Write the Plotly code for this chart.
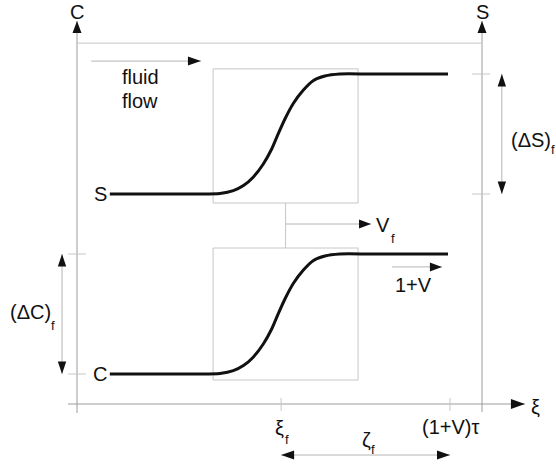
import plotly.graph_objects as go

# ---------------- data (schematic units) ----------------
# horizontal positions (xi units)
xi_f = 5.04          # front position
xi_end = 9.21        # (1+V)tau
xi_right = 10.0      # right (S) axis
curve_start = 0.81
curve_end = 9.16
box_left, box_right = 3.36, 6.94
vf_x = 5.15

# vertical levels
C_low, C_high = 1.0, 5.0
S_low, S_high = 7.0, 11.0
top_line = 12.03
upper_box = (6.7, 11.17)
lower_box = (0.8, 5.2)
vf_y = 6.0
flow_y = 11.43
onev_y = 4.57
zeta_y = -1.7

# front profile (xi, normalised value)
profile_x = [3.04, 3.53, 3.86, 4.11, 4.35, 4.60, 4.81, 4.97, 5.14, 5.34,
             5.59, 5.83, 6.12, 6.49, 7.23]
profile_f = [0.0, 0.005, 0.028, 0.07, 0.14, 0.25, 0.377, 0.503, 0.629, 0.754,
             0.866, 0.944, 0.983, 1.0, 1.0]

# ---------------- layout constants ----------------
W, H = 556, 470
X_PX, Y_PX = 40.5, 30.0          # pixels per unit
X0_PX, Y0_PX = 77, 404           # origin in pixels
xr = [-X0_PX / X_PX, (W - X0_PX) / X_PX]
yr = [(Y0_PX - H) / Y_PX, Y0_PX / Y_PX]

AXIS = "#9c9c9c"
LIGHT = "#c6c6c6"
SHAFT = "#b4b4b4"
INK = "#111111"
FONT = "Liberation Sans, Arial, sans-serif"

fig = go.Figure()


def line(x0, y0, x1, y1, color=AXIS, width=1):
    fig.add_shape(type="line", x0=x0, y0=y0, x1=x1, y1=y1, xref="x", yref="y",
                  line=dict(color=color, width=width), layer="below")


def rect(x0, y0, x1, y1):
    fig.add_shape(type="rect", x0=x0, y0=y0, x1=x1, y1=y1, xref="x", yref="y",
                  line=dict(color=LIGHT, width=1), fillcolor="rgba(0,0,0,0)",
                  layer="below")


heads_x, heads_y = [], []


def head(tx, ty, dx, dy, L=12.5, hw=4.5):
    # dx, dy: direction in pixel space (dy>0 is up)
    bx, by = tx - dx * L / X_PX, ty - dy * L / Y_PX
    px, py = -dy, dx
    heads_x.extend([tx, bx + px * hw / X_PX, bx - px * hw / X_PX, tx, None])
    heads_y.extend([ty, by + py * hw / Y_PX, by - py * hw / Y_PX, ty, None])


# axes
tip_y = 12.77
line(0, -0.3, 0, tip_y)
head(0, tip_y, 0, 1, 12, 4.5)
line(xi_right, -0.27, xi_right, tip_y)
head(xi_right, tip_y, 0, 1, 12, 4.5)
x_tip = 11.06
line(-0.22, 0, x_tip, 0)
head(x_tip, 0, 1, 0, 14, 5)
line(0, top_line, xi_right, top_line, color=LIGHT)

# ticks
for yv in (C_low, C_high):
    line(-0.22, yv, 0.22, yv, color=LIGHT)
for yv in (S_low, S_high):
    line(xi_right - 0.25, yv, xi_right + 0.2, yv, color=LIGHT)
for xv in (xi_f, xi_end):
    line(xv, -0.23, xv, 0.2, color=LIGHT)

# boxes and connector
rect(box_left, upper_box[0], box_right, upper_box[1])
rect(box_left, lower_box[0], box_right, lower_box[1])
line(vf_x, lower_box[1], vf_x, upper_box[0], color=LIGHT)

# arrows
line(vf_x, vf_y, 7.26, vf_y, color=SHAFT)
head(7.26, vf_y, 1, 0, 12, 4.5)
line(0.35, flow_y, 3.06, flow_y, color=SHAFT)
head(3.06, flow_y, 1, 0, 13, 4.5)
line(7.78, onev_y, 9.01, onev_y, color=SHAFT)
head(9.01, onev_y, 1, 0, 12, 4.5)
ds_x = 10.49
line(ds_x, S_low, ds_x, S_high, color=SHAFT)
head(ds_x, S_high, 0, 1, 12.5, 4.2)
head(ds_x, S_low, 0, -1, 12.5, 4.2)
dc_x = -0.37
line(dc_x, C_low, dc_x, C_high, color=SHAFT)
head(dc_x, C_high, 0, 1, 12.5, 4.2)
head(dc_x, C_low, 0, -1, 12.5, 4.2)
line(xi_f, zeta_y, xi_end, zeta_y, color=SHAFT)
head(xi_end, zeta_y, 1, 0, 13, 4.5)
head(xi_f, zeta_y, -1, 0, 13, 4.5)

fig.add_trace(go.Scatter(x=heads_x, y=heads_y, mode="lines", fill="toself",
                         fillcolor=INK, line=dict(width=0, color=INK),
                         hoverinfo="skip", showlegend=False))

# fronts (S and C curves)
cx = [curve_start] + profile_x + [curve_end]
cf = [0.0] + profile_f + [1.0]
for lo, hi in ((S_low, S_high), (C_low, C_high)):
    fig.add_trace(go.Scatter(x=cx, y=[lo + (hi - lo) * f for f in cf],
                             mode="lines", line=dict(color=INK, width=3, shape="spline",
                                                     smoothing=0.6),
                             hoverinfo="skip", showlegend=False))


def txt(x, y, s, size=20, xanchor="center"):
    fig.add_annotation(x=x, y=y, xref="x", yref="y", text=s, showarrow=False,
                       xanchor=xanchor, yanchor="middle",
                       font=dict(family=FONT, size=size, color=INK))


txt(0, 13.08, "C")
txt(xi_right, 13.08, "S")
txt(1.556, 10.9, "fluid")
txt(1.556, 10.1, "flow")
txt(0.568, S_low, "S")
txt(0.568, C_low, "C")
txt(7.556, 5.97, "V")
txt(7.80, 5.53, "f", 13)
txt(8.32, 3.97, "1+V")
txt(11.21, 8.8, "(\u0394S)")
txt(11.75, 8.47, "f", 13)
txt(-1.16, 3.07, "(\u0394C)")
txt(-0.59, 2.63, "f", 13)
txt(11.31, -0.1, "\u03be")
txt(5.01, -0.8, "\u03be")
txt(5.19, -1.17, "f", 13)
txt(9.23, -0.77, "(1+V)\u03c4")
txt(7.14, -1.2, "\u03b6")
txt(7.31, -1.5, "f", 13)

fig.update_layout(width=W, height=H, margin=dict(l=0, r=0, t=0, b=0),
                  paper_bgcolor="white", plot_bgcolor="white",
                  xaxis=dict(range=xr, visible=False, fixedrange=True),
                  yaxis=dict(range=yr, visible=False, fixedrange=True),
                  showlegend=False)

fig.write_html("out.html")
